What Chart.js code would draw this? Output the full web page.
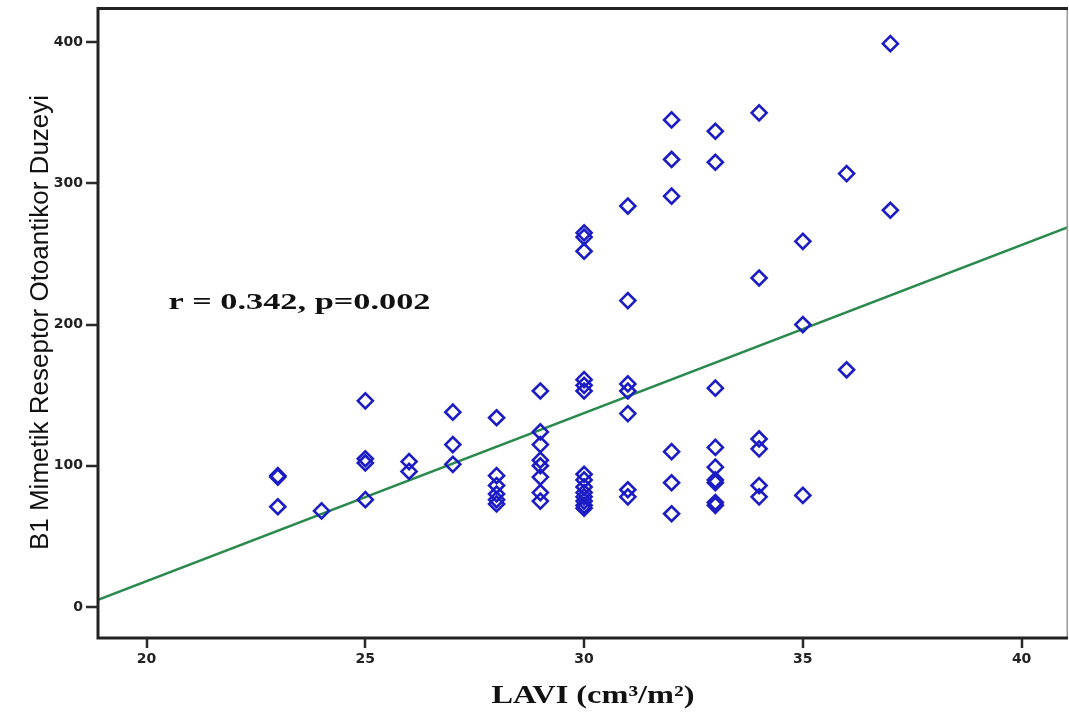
<!DOCTYPE html>
<html>
<head>
<meta charset="utf-8">
<script src="https://cdn.jsdelivr.net/npm/chart.js@4"></script>
<style>
html,body{margin:0;padding:0;background:#fff;}
#wrap{width:1069px;height:716px;position:relative;}
</style>
</head>
<body>
<div id="wrap"><canvas id="c" width="1069" height="716"></canvas></div>
<script>
// LAVI (cm3/m2) values, one per patient
const laviValues = [
  23, 23, 23,
  24,
  25, 25, 25, 25,
  26, 26,
  27, 27, 27,
  28, 28, 28, 28, 28, 28,
  29, 29, 29, 29, 29, 29, 29, 29,
  30, 30, 30, 30, 30, 30, 30, 30, 30, 30, 30, 30, 30, 30,
  31, 31, 31, 31, 31, 31, 31,
  32, 32, 32, 32, 32, 32,
  33, 33, 33, 33, 33, 33, 33, 33, 33,
  34, 34, 34, 34, 34, 34,
  35, 35, 35,
  36, 36,
  37, 37
];
// B1 mimetic receptor autoantibody level, same order
const b1Levels = [
  93, 92, 71,
  68,
  146, 105, 102, 76,
  103, 96,
  138, 115, 101,
  134, 93, 86, 80, 76, 73,
  153, 124, 115, 104, 100, 92, 81, 75,
  265, 262, 252, 161, 157, 153, 94, 90, 85, 81, 78, 75, 72, 70,
  284, 217, 158, 153, 137, 83, 78,
  345, 317, 291, 110, 88, 66,
  337, 315, 155, 113, 99, 90, 88, 74, 72,
  350, 233, 119, 112, 86, 78,
  259, 200, 79,
  307, 168,
  399, 281
];
const xTickLabels = [20, 25, 30, 35, 40];
const yTickLabels = [0, 100, 200, 300, 400];
const xRange = [18.89, 41.06];
const yRange = [-22, 425];
// fitted regression line: level = intercept + slope * LAVI
const fitIntercept = -220;
const fitSlope = 11.91;
const annotationText = "r = 0.342, p=0.002";
const xTitle = "LAVI (cm\u00B3/m\u00B2)";
const yTitle = "B1 Mimetik Reseptor Otoantikor Duzeyi";

const scatterPoints = laviValues.map((x, i) => ({x: x, y: b1Levels[i]}));
const fitPoints = xRange.map(x => ({x: x, y: fitIntercept + fitSlope * x}));

function stretchedText(ctx, text, x, y, font, targetWidth, align) {
  ctx.save();
  ctx.font = font;
  ctx.textBaseline = 'middle';
  ctx.textAlign = 'left';
  const w = ctx.measureText(text).width;
  const k = targetWidth / w;
  const startX = align === 'center' ? x - targetWidth / 2 : x;
  ctx.translate(startX, y);
  ctx.scale(k, 1);
  ctx.fillText(text, 0, 0);
  ctx.restore();
}

const framePlugin = {
  id: 'frame',
  afterDraw(chart) {
    const {ctx, chartArea: a} = chart;
    const xs = chart.scales.x, ys = chart.scales.y;
    ctx.save();
    ctx.strokeStyle = '#9a9a9a';
    ctx.lineWidth = 1.5;
    ctx.beginPath();
    ctx.moveTo(a.right - 0.75, a.top);
    ctx.lineTo(a.right - 0.75, a.bottom);
    ctx.stroke();
    ctx.strokeStyle = '#222';
    ctx.lineWidth = 3;
    ctx.beginPath();
    ctx.moveTo(a.left, a.top + 1.5);
    ctx.lineTo(a.right, a.top + 1.5);
    ctx.moveTo(a.left, a.top);
    ctx.lineTo(a.left, a.bottom);
    ctx.lineTo(a.right, a.bottom);
    ctx.stroke();
    // tick marks
    ctx.strokeStyle = '#2a2a2a';
    ctx.lineWidth = 2.5;
    ctx.beginPath();
    yTickLabels.forEach(v => {
      const py = Math.round(ys.getPixelForValue(v));
      ctx.moveTo(a.left - 12, py);
      ctx.lineTo(a.left, py);
    });
    xTickLabels.forEach(v => {
      const px = Math.round(xs.getPixelForValue(v));
      ctx.moveTo(px, a.bottom);
      ctx.lineTo(px, a.bottom + 10);
    });
    ctx.stroke();
    ctx.restore();
    ctx.save();
    ctx.fillStyle = '#111';
    stretchedText(ctx, annotationText, xs.getPixelForValue(20.5), ys.getPixelForValue(215),
      'bold 23px "Liberation Serif", "Times New Roman", serif', 262, 'left');
    stretchedText(ctx, xTitle, 593, 697,
      'bold 25px "Liberation Serif", "Times New Roman", serif', 203, 'center');
    ctx.restore();
  }
};

new Chart(document.getElementById('c'), {
  type: 'scatter',
  data: {
    datasets: [
      {
        type: 'line',
        data: fitPoints,
        borderColor: '#2a8a4e',
        borderWidth: 2.5,
        pointRadius: 0,
        fill: false,
        order: 2
      },
      {
        data: scatterPoints,
        pointStyle: 'rectRot',
        pointRadius: 7.5,
        pointBorderWidth: 2.6,
        pointBorderColor: '#1c1cc4',
        pointBackgroundColor: 'rgba(0,0,0,0)',
        order: 1
      }
    ]
  },
  plugins: [framePlugin],
  options: {
    responsive: false,
    animation: false,
    layout: {autoPadding: false, padding: {top: 7, right: 1, left: 0, bottom: 0}},
    plugins: {legend: {display: false}, tooltip: {enabled: false}},
    scales: {
      x: {
        type: 'linear',
        min: xRange[0],
        max: xRange[1],
        afterBuildTicks: s => { s.ticks = xTickLabels.map(v => ({value: v})); },
        afterFit: s => { s.height = 78; s.paddingLeft = 0; s.paddingRight = 0; s.paddingTop = 0; s.paddingBottom = 0; },
        border: {display: false},
        grid: {display: false, tickLength: 8},
        ticks: {color: '#222', padding: 5, font: {family: '"DejaVu Sans", Arial, sans-serif', weight: 'bold', size: 14}},
        title: {display: false, text: xTitle}
      },
      y: {
        type: 'linear',
        min: yRange[0],
        max: yRange[1],
        afterBuildTicks: s => { s.ticks = yTickLabels.map(v => ({value: v})); },
        afterFit: s => { s.width = 98; s.paddingTop = 0; s.paddingBottom = 0; s.paddingLeft = 0; s.paddingRight = 0; },
        border: {display: false},
        grid: {display: false, tickLength: 8},
        ticks: {color: '#222', padding: 7, font: {family: '"DejaVu Sans", Arial, sans-serif', weight: 'bold', size: 14}},
        title: {display: true, text: yTitle, color: '#111', padding: {top: 25, bottom: 0},
                font: {family: '"Liberation Sans", Arial, sans-serif', size: 26, lineHeight: 1.2}}
      }
    }
  }
});
</script>
</body>
</html>
